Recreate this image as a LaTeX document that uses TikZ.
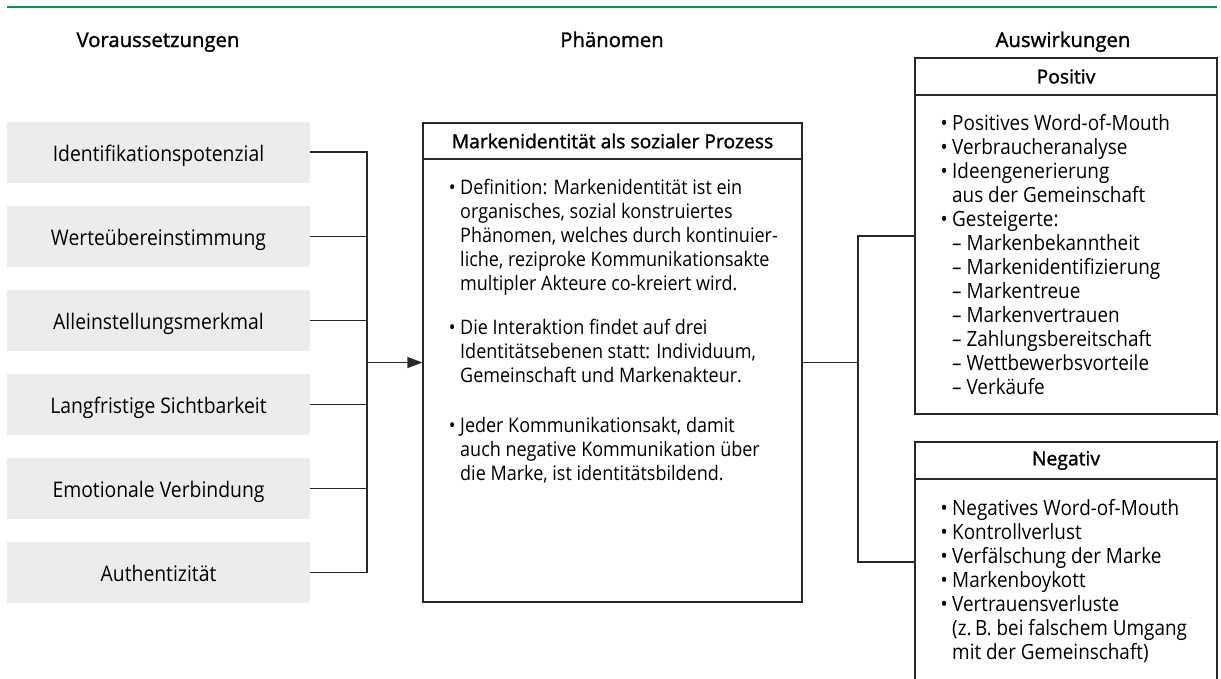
\documentclass[tikz,border=0pt]{standalone}
\usepackage{fontspec}
\setmainfont{Open Sans}
\newfontfamily\bodyfont[FakeStretch=0.9]{Open Sans}
\newfontfamily\headfont[FakeBold=1.4]{Open Sans}
\usetikzlibrary{arrows.meta}
\definecolor{boxgray}{RGB}{236,236,236}
\definecolor{topgreen}{RGB}{0,150,68}
\definecolor{linegray}{RGB}{40,40,40}
\newcommand{\blt}{\llap{•\hspace{4.5pt}}}
\newcommand{\rows}[1]{\begin{tabular}[t]{@{}l@{}}#1\end{tabular}}
\begin{document}
\begin{tikzpicture}[x=1pt,y=-1pt,
  body/.style={font=\bodyfont\fontsize{20}{24}\selectfont},
  rbody/.style={font=\bodyfont\fontsize{21}{24}\selectfont},
  prefont/.style={font=\bodyfont\fontsize{21.5}{24}\selectfont},
  head/.style={font=\headfont\fontsize{20.3}{24}\selectfont},
  title/.style={font=\headfont\fontsize{19.3}{24}\selectfont},
  pre/.style={fill=boxgray, minimum width=303pt, minimum height=61pt, inner sep=0pt,
    text height=18pt, text depth=0pt, prefont},
  conn/.style={draw=linegray, line width=1.2pt},
  frame/.style={draw=linegray, line width=1.2pt, inner sep=0pt},
  txt/.style={inner sep=0pt, anchor=base west, body}]
\useasboundingbox (0,0) rectangle (1221,678);
\draw[topgreen, line width=2.5pt] (7,7) -- (1217,7);

\node[head, anchor=base] (h1) at (158,47) {Voraussetzungen};
\node[head, anchor=base] (h2) at (612,47) {Phänomen};
\node[head, anchor=base] (h3) at (1063,47) {Auswirkungen};

\node[pre] (p1) at (158.5,152) {Identifikationspotenzial};
\node[pre] (p2) at (158.5,236.5) {Werteübereinstimmung};
\node[pre] (p3) at (158.5,320.5) {Alleinstellungsmerkmal};
\node[pre] (p4) at (158.5,404.5) {Langfristige Sichtbarkeit};
\node[pre] (p5) at (158.5,488.5) {Emotionale Verbindung};
\node[pre] (p6) at (158.5,572.5) {Authentizität};

% center box
\node[frame, minimum width=379pt, minimum height=479pt] (ph) at (612.5,362.5) {};
\node[frame, title, minimum width=379pt, minimum height=36pt, anchor=north] (pht) at (ph.north) {Markenidentität als sozialer Prozess};
\node[txt] (pb) at (460,194) {\rows{\blt Definition: Markenidentität ist ein\\
organisches, sozial konstruiertes\\
Phänomen, welches durch kontinuier-\\
liche, reziproke Kommunikationsakte\\
multipler Akteure co-kreiert wird.\\[20pt]
\blt Die Interaktion findet auf drei\\
Identitätsebenen statt: Individuum,\\
Gemeinschaft und Markenakteur.\\[26pt]
\blt Jeder Kommunikationsakt, damit\\
auch negative Kommunikation über\\
die Marke, ist identitätsbildend.}};

% connectors left
\coordinate (j) at (367,362.5);
\draw[conn] (p1.east) -| (j) |- (p6.east);
\draw[conn] (p2.east) -- (p2.east -| j);
\draw[conn] (p3.east) -- (p3.east -| j);
\draw[conn] (p4.east) -- (p4.east -| j);
\draw[conn] (p5.east) -- (p5.east -| j);
\draw[conn, -{Triangle[length=15pt,width=11pt]}] (j) -- (ph.west);

% right boxes
\node[frame, minimum width=302pt, minimum height=356pt] (pos) at (1066,236) {};
\node[frame, title, minimum width=302pt, minimum height=37pt, anchor=north] (post) at (pos.north) {Positiv};
\node[txt, rbody] (posb) at (952,130.5) {\rows{\blt Positives Word-of-Mouth\\
\blt Verbraucheranalyse\\
\blt Ideengenerierung\\
aus der Gemeinschaft\\
\blt Gesteigerte:\\
– Markenbekanntheit\\
– Markenidentifizierung\\
– Markentreue\\
– Markenvertrauen\\
– Zahlungsbereitschaft\\
– Wettbewerbsvorteile\\
– Verkäufe}};

\node[frame, minimum width=302pt, minimum height=240pt] (neg) at (1066,562) {};
\node[frame, title, minimum width=302pt, minimum height=37pt, anchor=north] (negt) at (neg.north) {Negativ};
\node[txt, rbody] (negb) at (952,515) {\rows{\blt Negatives Word-of-Mouth\\
\blt Kontrollverlust\\
\blt Verfälschung der Marke\\
\blt Markenboykott\\
\blt Vertrauensverluste\\
(z.\,B. bei falschem Umgang\\
mit der Gemeinschaft)}};

\coordinate (k) at (858,362.5);
\draw[conn] (ph.east) -- (k);
\draw[conn] (pos.west) -| (k) |- (neg.west);
\end{tikzpicture}
\end{document}
